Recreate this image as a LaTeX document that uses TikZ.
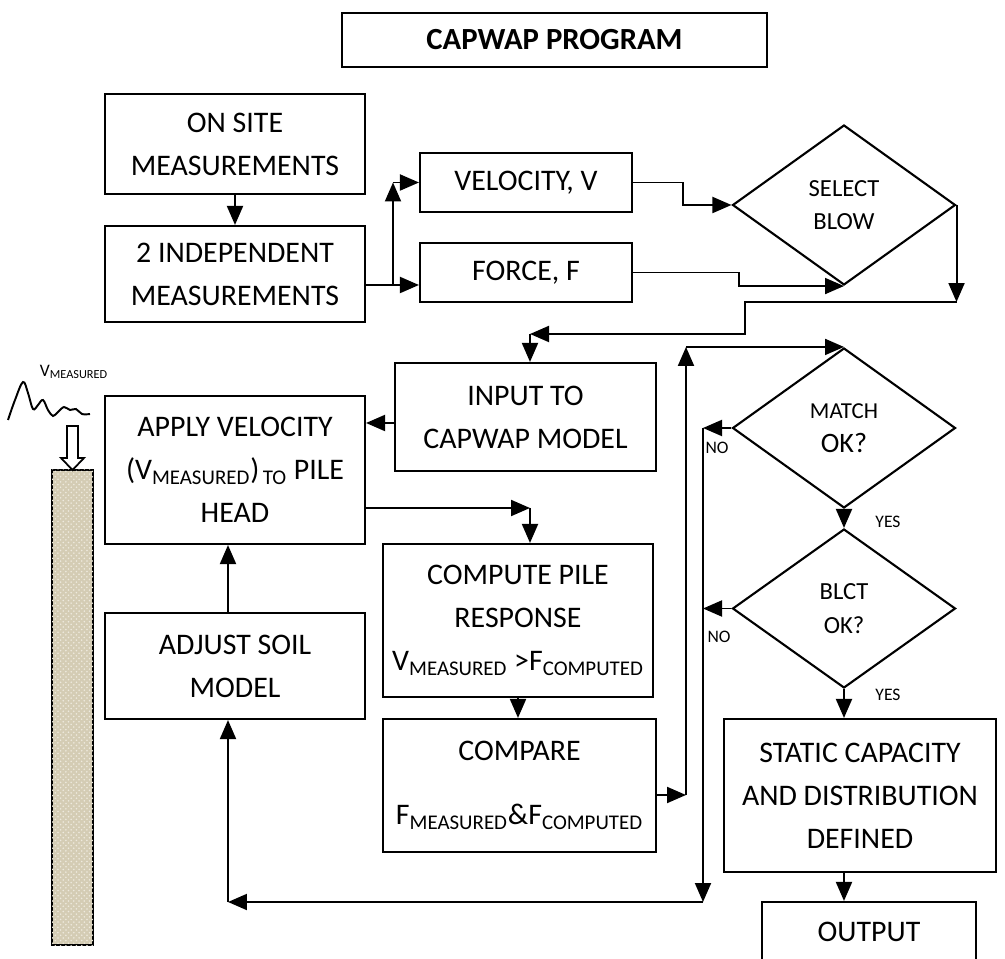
\documentclass[tikz,border=0pt]{standalone}
\usepackage{fontspec}
\setmainfont{Carlito}
\usetikzlibrary{shapes.geometric,arrows.meta,patterns}
\definecolor{pilefill}{RGB}{212,204,180}
\definecolor{piledot}{RGB}{238,234,222}

\begin{document}
\begin{tikzpicture}[x=0.02cm,y=-0.02cm,
  box/.style={draw, line width=1.2pt, align=center, inner sep=2pt, font=\fontsize{17}{24.5}\selectfont},
  decision/.style={draw, diamond, line width=1.2pt, align=center, inner sep=0pt, aspect=1.4, minimum width=4.46cm, minimum height=3.2cm, font=\fontsize{14}{19}\selectfont},
  arr/.style={line width=1.1pt, -{Triangle[length=0.38cm,width=0.32cm]}},
  lbl/.style={font=\fontsize{10}{11}\selectfont, inner sep=0pt},
  pile/.style={draw, line width=1.2pt, fill=pilefill, postaction={pattern=crosshatch dots, pattern color=piledot}}]
\useasboundingbox (0,0) rectangle (1005,959);

% Title
\node[draw, line width=1.2pt, minimum width=8.5cm, minimum height=1.08cm, font=\fontsize{17.5}{23}\selectfont\bfseries] (title) at (554.5,40) {CAPWAP PROGRAM};

% Measurements
\node[box, minimum width=5.2cm, minimum height=2cm] (onsite) at (235,144) {ON SITE\\MEASUREMENTS};
\node[box, minimum width=5.2cm, minimum height=1.92cm] (indep) at (235,274) {2 INDEPENDENT\\MEASUREMENTS};
\node[box, minimum width=4.24cm, minimum height=1.18cm] (velo) at (526,182.5) {VELOCITY, V};
\node[box, minimum width=4.24cm, minimum height=1.18cm] (force) at (526,272.5) {FORCE, F};
\node[decision] (sel) at (844,205) {SELECT\\BLOW};

% CAPWAP loop
\node[box, minimum width=5.22cm, minimum height=2.16cm] (input) at (525.5,417) {INPUT TO\\CAPWAP MODEL};
\node[box, minimum width=5.2cm, minimum height=2.96cm] (apply) at (235,470) {APPLY VELOCITY\\(V\textsubscript{MEASURED})\textsubscript{\,TO} PILE\\HEAD};
\node[box, minimum width=5.2cm, minimum height=2.12cm] (adjust) at (235,666) {ADJUST SOIL\\MODEL};
\node[box, minimum width=5.4cm, minimum height=3.06cm] (compute) at (518,620.5) {COMPUTE PILE\\RESPONSE\\V\textsubscript{MEASURED} >F\textsubscript{COMPUTED}};
\node[box, minimum width=5.46cm, minimum height=2.66cm] (compare) at (519.5,785.5) {COMPARE\\[0.42cm]F\textsubscript{MEASURED}\&F\textsubscript{COMPUTED}};

% Checks and result
\node[decision] (match) at (844,428) {{\fontsize{13}{19}\selectfont MATCH}\\{\fontsize{16}{19}\selectfont OK?}};
\node[decision, minimum height=3.18cm] (blct) at (844,608.5) {BLCT\\OK?};
\node[box, minimum width=5.44cm, minimum height=3.06cm] (static) at (860,795.5) {STATIC CAPACITY\\AND DISTRIBUTION\\DEFINED};
\node[box, minimum width=4.28cm, minimum height=1.2cm] (output) at (869,932) {OUTPUT};

% Pile and measured signal
\draw[pile] (52,470) rectangle (93,945);
\draw[line width=1pt, fill=white] (67,426) -- (78,426) -- (78,458) -- (84,458) -- (72.5,470) -- (61,458) -- (67,458) -- cycle;
\draw[line width=1.1pt] plot[smooth, tension=0.6] coordinates {(8,420) (15,400) (23,382) (28,393) (33,409) (38,405) (43,400) (48,410) (53,416) (58,412) (64,407) (70,410) (76,409) (82,414) (90,414)};
\node[font=\fontsize{10}{12}\selectfont] (vlabel) at (74,372) {V\textsubscript{MEASURED}};

% Connectors
\draw[arr] (onsite) -- (indep);
\coordinate (split) at (393,285);
\draw[arr] (indep.east |- split) -- (force.west |- split);
\draw[arr] (split) -- (split |- velo.west);
\draw[arr] (split |- velo.west) -- (velo.west);
\draw[arr] (velo.east) -- ++(50,0) |- (sel.west);
\draw[arr] (force.east) -- ++(106,0) |- (sel.south);

\coordinate (selturn) at (sel.east |- 0,302);
\coordinate (inturn) at (530,334);
\draw[arr] (sel.east) -- (selturn);
\draw[arr] (selturn) -- ++(-212,0) -- ++(0,32) -- (inturn);
\draw[arr] (inturn) -- (inturn |- input.north);
\draw[arr] (input.west |- 0,423) -- (apply.east |- 0,423);

\coordinate (cpturn) at (530,508);
\draw[arr] (apply.east |- cpturn) -- (cpturn);
\draw[arr] (cpturn) -- (cpturn |- compute.north);
\draw[arr] (compute.south) -- (compute.south |- compare.north);

\coordinate (outer) at (686,795);
\draw[arr] (compare.east |- outer) -- (outer);
\draw[arr] (outer) -- (outer |- match.north);
\draw[arr] (outer |- match.north) -- (match.north);

\coordinate (inner) at (703,902);
\draw[arr] (match.west) -- (match.west -| inner);
\draw[arr] (blct.west) -- (blct.west -| inner);
\draw[arr] (match.west -| inner) -- (inner);
\coordinate (backturn) at (inner -| 228,0);
\draw[arr] (inner) -- (backturn);
\draw[arr] (backturn) -- (backturn |- adjust.south);
\draw[arr] (adjust.north -| backturn) -- (apply.south -| backturn);

\draw[arr] (match.south) -- (blct.north);
\draw[arr] (blct.south) -- (blct.south |- static.north);
\draw[arr] (static.south -| blct.south) -- (output.north -| blct.south);

% Decision labels
\node[lbl] (nomatch) at (717,448) {NO};
\node[lbl] (noblct) at (719,637) {NO};
\node[lbl] (yesmatch) at (888,522) {YES};
\node[lbl] (yesblct) at (888,695) {YES};
\end{tikzpicture}
\end{document}
